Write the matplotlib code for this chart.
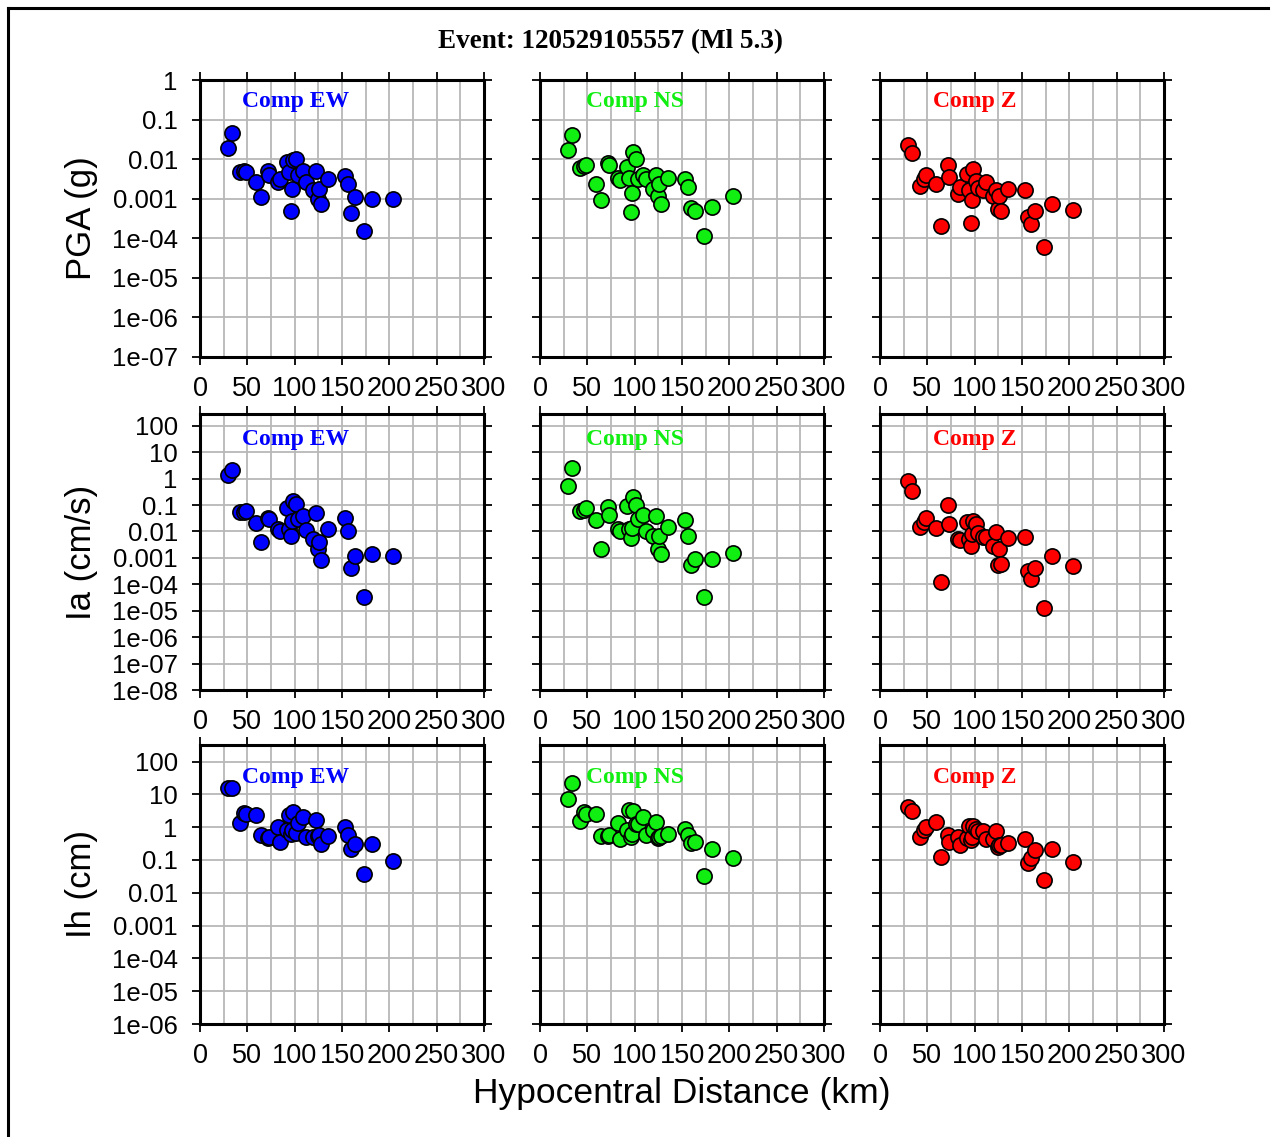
import matplotlib
matplotlib.use("Agg")
import matplotlib.pyplot as plt
from matplotlib.lines import Line2D
import numpy as np

# hypocentral distance of each station (km)
dist = [29.5, 33.5, 42, 47, 49, 59, 64, 72, 73, 82, 85, 92, 94, 96, 97, 98, 101,
        103, 109, 112, 119, 123, 125, 126, 128, 135, 153, 156, 159, 164, 173, 182, 204]

# values, stored as log10
pga_ew = [-1.72, -1.33, -2.33, -2.31, -2.33, -2.59, -2.95, -2.30, -2.39, -2.57, -2.50,
          -2.08, -2.33, -3.32, -2.76, -2.02, -2.00, -2.41, -2.29, -2.57, -2.77, -2.29,
          -3.00, -2.75, -3.13, -2.51, -2.43, -2.64, -3.36, -2.96, -3.81, -3.01, -3.01]
pga_ns = [-1.78, -1.39, -2.22, -2.18, -2.14, -2.62, -3.04, -2.10, -2.14, -2.47, -2.52,
          -2.19, -2.47, -3.34, -2.86, -1.83, -1.99, -2.51, -2.41, -2.50, -2.75, -2.41,
          -2.94, -2.62, -3.13, -2.48, -2.50, -2.71, -3.24, -3.30, -3.95, -3.21, -2.94]
pga_z = [-1.63, -1.85, -2.67, -2.50, -2.39, -2.64, -3.68, -2.14, -2.46, -2.88, -2.71,
         -2.37, -2.79, -3.62, -3.04, -2.26, -2.54, -2.72, -2.78, -2.57, -2.94, -2.78,
         -3.25, -2.92, -3.32, -2.76, -2.77, -3.47, -3.65, -3.31, -4.21, -3.13, -3.28]

ia_ew = [0.14, 0.33, -1.25, -1.25, -1.21, -1.67, -2.40, -1.48, -1.52, -1.92, -2.00,
         -1.12, -1.92, -2.18, -1.60, -0.83, -0.96, -1.52, -1.40, -1.94, -2.28, -1.31,
         -2.65, -2.38, -3.07, -1.92, -1.48, -2.00, -3.37, -2.91, -4.48, -2.87, -2.93]
ia_ns = [-0.26, 0.39, -1.21, -1.17, -1.12, -1.55, -2.65, -1.08, -1.36, -1.92, -2.00,
         -1.02, -1.92, -2.25, -1.85, -0.70, -0.99, -1.52, -1.37, -2.00, -2.18, -1.43,
         -2.65, -2.18, -2.84, -1.84, -1.58, -2.18, -3.26, -3.06, -4.48, -3.06, -2.82]
ia_z = [-0.08, -0.45, -1.84, -1.65, -1.50, -1.85, -3.91, -0.98, -1.72, -2.28, -2.34,
        -1.65, -2.28, -2.55, -2.10, -1.61, -1.70, -2.06, -2.19, -2.19, -2.55, -2.03,
        -3.25, -2.68, -3.22, -2.24, -2.19, -3.51, -3.79, -3.38, -4.88, -2.93, -3.31]

ih_ew = [1.19, 1.19, 0.14, 0.42, 0.40, 0.37, -0.24, -0.34, -0.30, 0.02, -0.46,
         -0.08, 0.37, -0.20, -0.10, 0.45, -0.18, 0.12, 0.30, -0.31, -0.29, 0.22,
         -0.27, -0.25, -0.51, -0.27, 0.00, -0.24, -0.67, -0.51, -1.43, -0.51, -1.02]
ih_ns = [0.87, 1.36, 0.20, 0.45, 0.40, 0.40, -0.27, -0.27, -0.25, 0.12, -0.37,
         -0.10, 0.51, -0.30, -0.20, 0.48, 0.10, 0.10, 0.32, -0.24, -0.10, 0.17,
         -0.34, -0.30, -0.27, -0.21, -0.06, -0.24, -0.49, -0.44, -1.49, -0.66, -0.95]
ih_z = [0.60, 0.50, -0.29, -0.10, 0.00, 0.15, -0.92, -0.24, -0.44, -0.29, -0.54,
        -0.34, 0.04, -0.40, -0.30, 0.04, -0.06, -0.13, -0.13, -0.37, -0.36, -0.13,
        -0.61, -0.55, -0.54, -0.47, -0.37, -1.10, -0.95, -0.69, -1.61, -0.66, -1.05]

components = ["Comp EW", "Comp NS", "Comp Z"]
colors = ["#0000ff", "#11ee11", "#ff0000"]
row_labels = ["PGA (g)", "Ia (cm/s)", "Ih (cm)"]
row_data = [[pga_ew, pga_ns, pga_z], [ia_ew, ia_ns, ia_z], [ih_ew, ih_ns, ih_z]]

pga_ticks = ["1", "0.1", "0.01", "0.001", "1e-04", "1e-05", "1e-06", "1e-07"]
ia_ticks = ["100", "10", "1", "0.1", "0.01", "0.001", "1e-04", "1e-05", "1e-06",
            "1e-07", "1e-08"]
ih_ticks = ["100", "10", "1", "0.1", "0.01", "0.001", "1e-04", "1e-05", "1e-06"]
row_ticks = [pga_ticks, ia_ticks, ih_ticks]
row_tick_vals = [[1e0, 1e-1, 1e-2, 1e-3, 1e-4, 1e-5, 1e-6, 1e-7],
                 [1e2, 1e1, 1e0, 1e-1, 1e-2, 1e-3, 1e-4, 1e-5, 1e-6, 1e-7, 1e-8],
                 [1e2, 1e1, 1e0, 1e-1, 1e-2, 1e-3, 1e-4, 1e-5, 1e-6]]
row_ylim = [(1e-7, 1.0), (1e-8, 280.0), (1e-6, 320.0)]
x_ticks = [0, 50, 100, 150, 200, 250, 300]

W, H = 1275, 1137
col_left = [200, 540, 880]
ax_w = 284
row_top = [80, 414, 745]
row_bot = [357, 690, 1024]
label_y = [0.924, 0.906, 0.882]

plt.rcParams['font.family'] = ['Liberation Sans', 'DejaVu Sans']
fig = plt.figure(figsize=(W / 100, H / 100), dpi=100)

for r in range(3):
    for c in range(3):
        ax = fig.add_axes([col_left[c] / W, 1 - row_bot[r] / H, ax_w / W,
                           (row_bot[r] - row_top[r]) / H])
        ax.set_yscale("log")
        y = 10 ** np.array(row_data[r][c])
        ax.scatter(dist, y, s=120, c=colors[c], edgecolors="black",
                   linewidths=1.2, zorder=3, clip_on=False)
        ax.set_xlim(0, 300)
        ax.set_ylim(*row_ylim[r])
        ax.set_xticks(x_ticks)
        ax.set_xticklabels([str(v) for v in x_ticks], fontsize=19.5)
        ax.set_xticks(np.arange(0, 301, 25), minor=True)
        ax.set_yticks(row_tick_vals[r])
        ax.set_yticks([], minor=True)
        if c == 0:
            ax.set_yticklabels(row_ticks[r], fontsize=18.5)
            ax.set_ylabel(row_labels[r], fontsize=25)
            ax.yaxis.set_label_coords(-0.36, 0.5)
        else:
            ax.set_yticklabels([])
        ax.tick_params(axis="both", which="major", direction="out", length=6,
                       width=1.3, top=True, right=True)
        ax.tick_params(axis="y", which="major", pad=10)
        ax.tick_params(axis="x", which="major", pad=8)
        ax.tick_params(axis="x", which="minor", length=0)
        ax.grid(True, which="both", axis="x", color="#b8b8b8", linewidth=1.3)
        ax.grid(True, which="major", axis="y", color="#b8b8b8", linewidth=1.3)
        ax.set_axisbelow(True)
        for sp in ax.spines.values():
            sp.set_linewidth(2.2)
        ax.text(0.335, label_y[r], components[c], transform=ax.transAxes,
                ha="center", va="center", fontsize=17, fontweight="bold",
                color=colors[c], family="Liberation Serif", zorder=4)

fig.text(611 / W, 1 - 42 / H, "Event: 120529105557 (Ml 5.3)", ha="center",
         va="center", fontsize=19.5, fontweight="bold", family="Liberation Serif")
fig.text(682 / W, 1 - 1094 / H, "Hypocentral Distance (km)", ha="center",
         va="center", fontsize=25.5)

# page border (left and top edges)
fig.add_artist(Line2D([8 / W, 8 / W], [0, 1 - 8 / H], color="black", linewidth=2.2))
fig.add_artist(Line2D([8 / W, 1268 / W], [1 - 8 / H, 1 - 8 / H], color="black",
                      linewidth=2.2))

fig.savefig("out.png", dpi=100)
